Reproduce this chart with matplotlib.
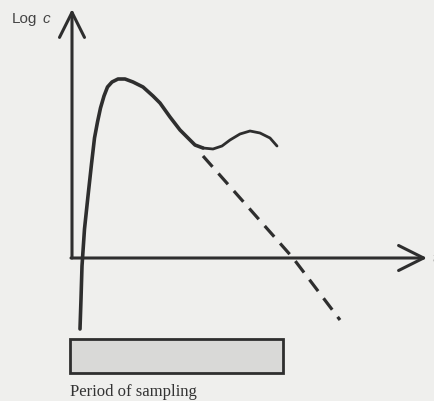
import matplotlib
matplotlib.use('Agg')
import matplotlib.pyplot as plt
from matplotlib.patches import Rectangle

# curve (x = time, y = log c, arbitrary units)
curve_x = [0.8, 0.9, 1.0, 1.25, 1.6, 1.95, 2.25, 2.55, 2.85, 3.2, 3.55, 4.0, 4.6, 5.3,
           6.1, 7.1, 8.1, 8.8, 9.8, 10.8, 11.5, 12.3, 13.1, 14.1, 15.0, 15.8,
           16.8, 17.8, 18.8, 19.8, 20.5]
curve_y = [-7.1, -4.1, -0.8, 2.9, 6.2, 9.4, 12.0, 13.6, 15.0, 16.2, 17.1, 17.6, 17.9, 17.9,
           17.6, 17.1, 16.2, 15.5, 14.1, 12.8, 12.1, 11.3, 11.0, 10.9, 11.2, 11.8,
           12.4, 12.7, 12.5, 12.0, 11.2]
drop_x = [13.1, 22.1, 26.8]
drop_y = [10.2, 0.0, -6.2]

sample_start = -0.2
sample_end = 21.1

ink = '#2e2e2e'
split = 22  # curve gets thinner after the dip

fig = plt.figure(figsize=(4.35, 4.02), dpi=100)
fig.patch.set_facecolor('#efefed')
ax = fig.add_axes([0, 0, 1, 1])
ax.set_facecolor('#efefed')
ax.set_xlim(-7.2, 36.3)
ax.set_ylim(-14.3, 25.9)
ax.axis('off')

# axes with open arrow heads
arrow = dict(arrowstyle='->,head_length=0.9,head_width=0.45', color=ink,
             lw=2.2, shrinkA=0, shrinkB=0, mutation_scale=20)
ax.annotate('', xy=(0, 24.9), xytext=(0, 0), arrowprops=arrow)
ax.annotate('', xy=(35.5, 0), xytext=(-0.1, 0), arrowprops=arrow)

# concentration curve
ax.plot(curve_x[:split + 1], curve_y[:split + 1], color=ink, lw=2.6,
        solid_capstyle='round', solid_joinstyle='round')
ax.plot(curve_x[split:], curve_y[split:], color=ink, lw=2.0,
        solid_capstyle='round', solid_joinstyle='round')
ax.plot(drop_x, drop_y, color=ink, lw=2.3, ls=(0, (4.5, 2.8)))

# sampling period bar
ax.add_patch(Rectangle((sample_start, -11.5), sample_end - sample_start, 3.4,
                       facecolor='#d9d9d7', edgecolor=ink, lw=2.0))

ax.text(-6.0, 24.0, 'Log', fontsize=11, family='Liberation Sans', color='#444444',
        va='center', ha='left')
ax.text(-2.9, 24.0, 'c', fontsize=11, family='Liberation Sans', style='italic',
        color='#444444', va='center', ha='left')
ax.text(36.0, 0.0, 't', fontsize=11, family='Liberation Serif', style='italic',
        color=ink, va='center', ha='left')
ax.text(sample_start, -13.3, 'Period of sampling', fontsize=12,
        family='Liberation Serif', color='#333333', va='center', ha='left')

plt.savefig('out.png', dpi=100, facecolor=fig.get_facecolor())
